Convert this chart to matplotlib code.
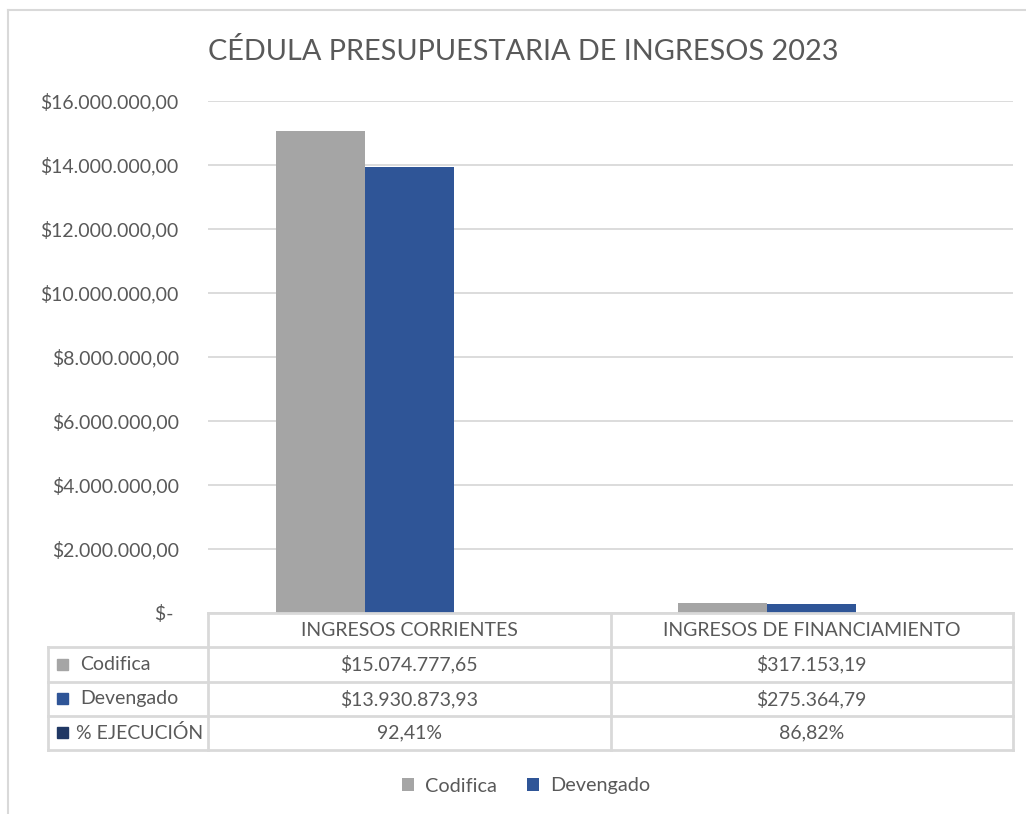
import matplotlib
matplotlib.use("Agg")
import matplotlib.pyplot as plt
from matplotlib.lines import Line2D
from matplotlib.patches import Rectangle
from matplotlib.ticker import FuncFormatter, MultipleLocator

categories = ["INGRESOS CORRIENTES", "INGRESOS DE FINANCIAMIENTO"]
codifica = [15074777.65, 317153.19]
devengado = [13930873.93, 275364.79]
ejecucion = [92.41, 86.82]
series_names = ["Codifica", "Devengado", "% EJECUCIÓN"]
title = "CÉDULA PRESUPUESTARIA DE INGRESOS 2023"

gray = "#A5A5A5"
blue = "#2F5597"
navy = "#203864"
txt = "#595959"
grid = "#D9D9D9"

plt.rcParams["font.family"] = ["Lato", "DejaVu Sans"]
FS = 14

W, H = 1026, 814


def px(x0, y0, x1, y1):
    # pixel box (top-left origin) -> figure fraction rect
    return [x0 / W, 1 - y1 / H, (x1 - x0) / W, (y1 - y0) / H]


def money(v):
    s = f"{v:,.2f}"
    return "$" + s.replace(",", "X").replace(".", ",").replace("X", ".")


def pct(v):
    return f"{v:.2f}%".replace(".", ",")


fig = plt.figure(figsize=(W / 100, H / 100), dpi=100)

# chart area border
fig.add_artist(Line2D([8 / W, 8 / W], [0, 1 - 10 / H], transform=fig.transFigure, color=grid, lw=1.5))
fig.add_artist(Line2D([8 / W, 1], [1 - 10 / H, 1 - 10 / H], transform=fig.transFigure, color=grid, lw=1.5))

ax = fig.add_axes(px(208, 101, 1013, 613))
x = list(range(len(categories)))
bw = 0.221
ax.bar([i - bw for i in x], codifica, bw, color=gray, label="Codifica")
ax.bar(x, devengado, bw, color=blue, label="Devengado")
# % column is a third series too; far too small to see on this scale
ax.bar([i + bw for i in x], ejecucion, bw, color=navy, label="_ejec")
ax.set_xlim(-0.5, len(categories) - 0.5)
ax.set_ylim(0, 16000000)
ax.yaxis.set_major_locator(MultipleLocator(2000000))
ax.yaxis.set_major_formatter(FuncFormatter(lambda v, p: "$- " if v == 0 else money(v)))
ax.grid(axis="y", color=grid, lw=1.3)
ax.set_axisbelow(True)
ax.set_xticks([])
for s in ax.spines.values():
    s.set_visible(False)
ax.tick_params(axis="y", length=0, pad=21, labelsize=FS, labelcolor=txt)

fig.suptitle(title, x=523 / W, y=1 - 52 / H, va="center", fontsize=20.8, color=txt)

# data table, sharing the bar chart's x scale
tb = fig.add_axes(px(208, 613, 1013, 750), sharex=ax)
tb.set_ylim(4, 0)
tb.axis("off")
left = -0.5 - 0.398
lkw = dict(color=grid, lw=2, clip_on=False)
tb.plot([-0.5, len(categories) - 0.5], [0, 0], **lkw)
for r in range(1, 5):
    tb.plot([left, len(categories) - 0.5], [r, r], **lkw)
tb.plot([left, left], [1, 4], **lkw)
for c in range(len(categories) + 1):
    tb.plot([c - 0.5, c - 0.5], [0, 4], **lkw)

for i, cat in enumerate(categories):
    tb.text(i, 0.5, cat, ha="center", va="center", fontsize=FS, color=txt)
rows = [[money(v) for v in codifica], [money(v) for v in devengado], [pct(v) for v in ejecucion]]
for r, (name, col, vals) in enumerate(zip(series_names, [gray, blue, navy], rows)):
    tb.add_patch(Rectangle((left + 0.022, r + 1.5 - 0.16), 0.029, 0.32, color=col, clip_on=False))
    tb.text(left + 0.08 if r < 2 else left + 0.07, r + 1.5, name, ha="left", va="center",
            fontsize=FS, color=txt, clip_on=False)
    for i, v in enumerate(vals):
        tb.text(i, r + 1.5, v, ha="center", va="center", fontsize=FS, color=txt)

fig.legend(loc="center", bbox_to_anchor=(526 / W, 1 - 786 / H), ncol=2, frameon=False,
           fontsize=14.3, labelcolor=txt, handlelength=0.62, handleheight=0.62,
           handletextpad=0.55, columnspacing=1.5)

fig.savefig("out.png", dpi=100)
